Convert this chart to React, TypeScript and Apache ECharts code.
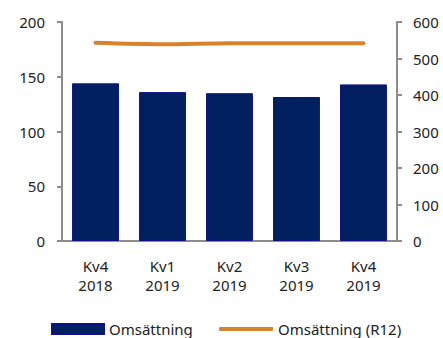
import React, { useEffect, useRef } from "react";
import * as echarts from "echarts";

const categories = ["Kv4\n2018", "Kv1\n2019", "Kv2\n2019", "Kv3\n2019", "Kv4\n2019"];
const omsattning = [144, 136, 135, 131.5, 143];
const omsattningR12 = [543, 539, 542, 542, 542];
const leftTicks = { min: 0, max: 200, interval: 50 };
const rightTicks = { min: 0, max: 600, interval: 100 };

const FONT = "Noto Sans";
const TXT = "#222";
const AXIS = "#8c8c8c";
const FS = 15;

export default function App() {
  const ref = useRef<HTMLDivElement>(null);
  useEffect(() => {
    const chart = echarts.init(ref.current!, null, { renderer: "svg" });
    chart.setOption({
      animation: false,
      textStyle: { fontFamily: FONT },
      grid: { left: 62, right: 46, top: 22, bottom: 97 },
      legend: [
        {
          data: ["Omsättning"],
          left: 51,
          top: 319,
          padding: 0,
          itemWidth: 52,
          itemHeight: 10,
          icon: "rect",
          textStyle: { fontSize: FS, color: TXT, fontFamily: FONT, lineHeight: 20 },
        },
        {
          data: ["Omsättning (R12)"],
          left: 219,
          top: 319,
          padding: 0,
          itemWidth: 54,
          itemHeight: 4,
          icon: "roundRect",
          textStyle: { fontSize: FS, color: TXT, fontFamily: FONT, lineHeight: 20 },
        },
      ],
      xAxis: {
        type: "category",
        data: categories,
        axisLine: { lineStyle: { color: AXIS, width: 2 } },
        axisTick: { show: false },
        axisLabel: { fontSize: FS, color: TXT, margin: 15, lineHeight: 19, fontFamily: FONT },
      },
      yAxis: [
        {
          type: "value",
          ...leftTicks,
          position: "left",
          splitLine: { show: false },
          axisLine: { show: true, lineStyle: { color: AXIS, width: 2 } },
          axisTick: { show: true, length: 5, lineStyle: { color: AXIS, width: 2 } },
          axisLabel: { fontSize: FS, color: TXT, margin: 17, fontFamily: FONT },
        },
        {
          type: "value",
          ...rightTicks,
          position: "right",
          splitLine: { show: false },
          axisLine: { show: true, lineStyle: { color: AXIS, width: 2 } },
          axisTick: { show: true, length: 5, lineStyle: { color: AXIS, width: 2 } },
          axisLabel: { fontSize: FS, color: TXT, margin: 16, fontFamily: FONT },
        },
      ],
      series: [
        {
          name: "Omsättning",
          type: "bar",
          data: omsattning,
          barWidth: "70%",
          itemStyle: { color: "#002060", borderColor: "#10108a", borderWidth: 1 },
        },
        {
          name: "Omsättning (R12)",
          type: "line",
          yAxisIndex: 1,
          data: omsattningR12,
          smooth: 0.3,
          showSymbol: false,
          symbol: "none",
          lineStyle: { color: "#D9822B", width: 4, cap: "round" },
          itemStyle: { color: "#D9822B" },
        },
      ],
    });
    return () => chart.dispose();
  }, []);
  return <div ref={ref} style={{ width: 443, height: 338, position: "absolute", left: 0, top: 0 }} />;
}
